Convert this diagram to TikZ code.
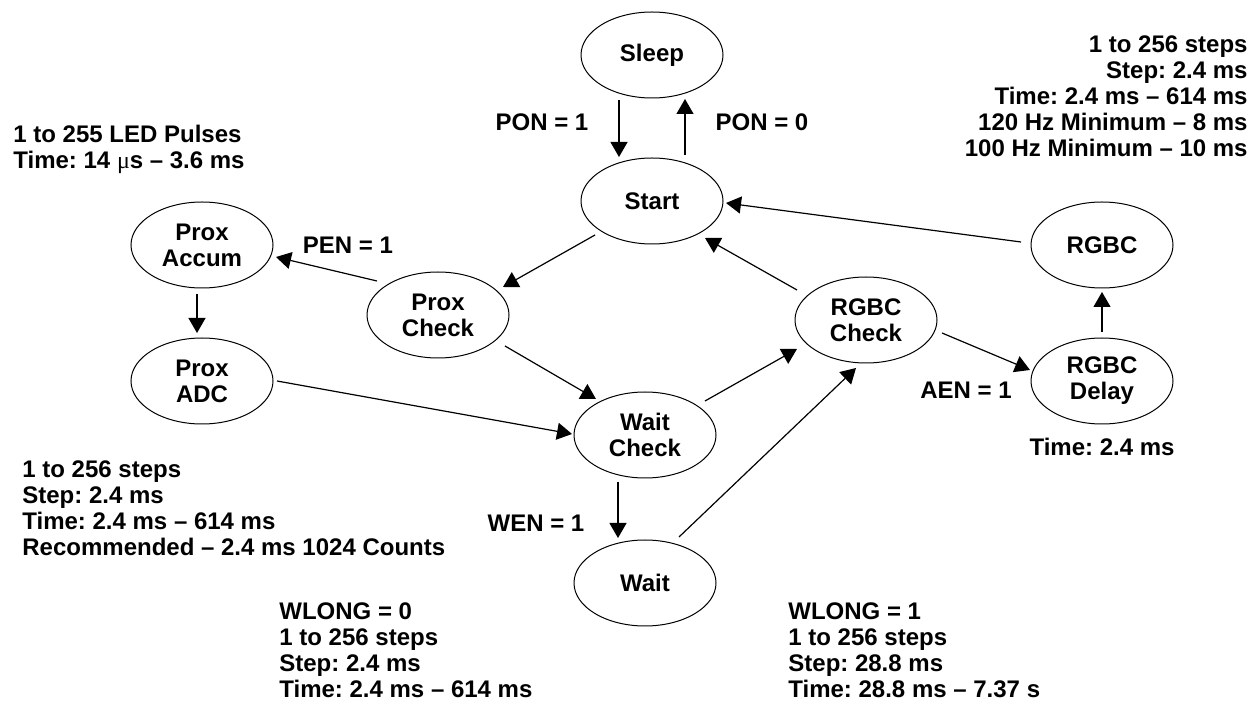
\documentclass[tikz,border=0pt]{standalone}
\usepackage{fontspec}
\setmainfont{Liberation Sans}
\newfontfamily\symf{Liberation Serif}
\usetikzlibrary{shapes.geometric,arrows.meta,calc}
\frenchspacing
\begin{document}
\begin{tikzpicture}[x=0.5pt,y=-0.5pt,
  every node/.style={font=\bfseries\fontsize{12pt}{13pt}\selectfont},
  state/.style={draw,ellipse,line width=0.5pt,minimum width=71pt,minimum height=43pt,inner sep=0pt,align=center},
  arr/.style={line width=0.6pt,-{Triangle[length=7.5pt,width=8.5pt]}},
  lbl/.style={inner sep=0pt},
  blk/.style={inner sep=0pt}]
\useasboundingbox (0,0) rectangle (1254,705);
% states
\node[state] (sleep) at (652,55) {Sleep};
\node[state] (start) at (652,201) {Start};
\node[state] (pc) at (438,315) {Prox\\Check};
\node[state] (acc) at (202,245) {Prox\\Accum};
\node[state] (adc) at (202,381) {Prox\\ADC};
\node[state] (wc) at (645,435) {Wait\\Check};
\node[state] (wait) at (645,583) {Wait};
\node[state] (rc) at (866,320) {RGBC\\Check};
\node[state] (rgbc) at (1102,245) {RGBC};
\node[state] (dly) at (1102,381) {RGBC\\Delay};
% connectors
\draw[arr] ($(sleep)+(-33,45)$) -- ($(start)+(-33,-44)$);
\draw[arr] ($(start)+(33,-46)$) -- ($(sleep)+(33,44)$);
\draw[arr] ($(start)+(-57,34)$) -- ($(pc)+(65,-28)$);
\draw[arr] ($(pc)+(67,31)$) -- ($(wc)+(-49,-36)$);
\draw[arr] ($(adc)+(75,0)$) -- ($(wc)+(-73,-1)$);
\draw[arr] ($(wc)+(60,-34)$) -- ($(rc)+(-69,29)$);
\draw[arr] ($(wait)+(34,-46)$) -- ($(rc)+(-10,48)$);
\draw[arr] ($(rc)+(-69,-30)$) -- ($(start)+(53,37)$);
\draw[arr] ($(rgbc)+(-81,-3)$) -- ($(start)+(74,2)$);
\draw[arr] ($(rc)+(76,13)$) -- ($(dly)+(-72,-11)$);
\draw[arr] ($(dly)+(0,-49)$) -- ($(rgbc)+(0,47)$);
\draw[arr] ($(pc)+(-61,-34)$) -- ($(acc)+(74,12)$);
\draw[arr] ($(acc)+(-5,49)$) -- ($(adc)+(-5,-48)$);
\draw[arr] ($(wc)+(-27,47)$) -- ($(wait)+(-27,-45)$);
% labels
\node[lbl] (l1) at (542,122) {PON = 1};
\node[lbl] (l2) at (762,122) {PON = 0};
\node[lbl] (l3) at (348,245) {PEN = 1};
\node[lbl] (l4) at (966,390) {AEN = 1};
\node[lbl] (l5) at (536,523) {WEN = 1};
\node[lbl] (l6) at (1102,447) {Time: 2.4 ms};
% text blocks
\node[blk,anchor=west,align=left] (tl) at (13,149) {1 to 255 LED Pulses\\Time: 14 {\symf\mdseries μ}s -- 3.6 ms};
\node[blk,anchor=east,align=right] (tr) at (1248,96) {1 to 256 steps\\Step: 2.4 ms\\Time: 2.4 ms -- 614 ms\\120 Hz Minimum -- 8 ms\\100 Hz Minimum -- 10 ms};
\node[blk,anchor=west,align=left] (bl) at (22,508) {1 to 256 steps\\Step: 2.4 ms\\Time: 2.4 ms -- 614 ms\\Recommended -- 2.4 ms 1024 Counts};
\node[blk,anchor=west,align=left] (w0) at (279,650) {WLONG = 0\\1 to 256 steps\\Step: 2.4 ms\\Time: 2.4 ms -- 614 ms};
\node[blk,anchor=west,align=left] (w1) at (788,650) {WLONG = 1\\1 to 256 steps\\Step: 28.8 ms\\Time: 28.8 ms -- 7.37 s};
\end{tikzpicture}
\end{document}
